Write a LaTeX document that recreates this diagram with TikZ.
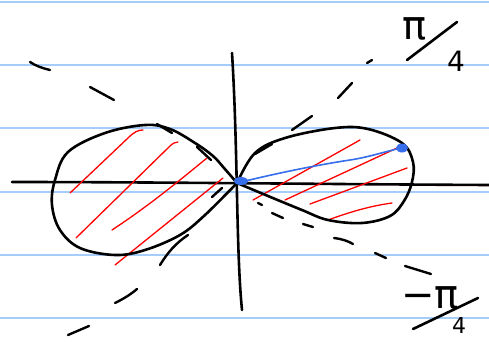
\documentclass[tikz,border=0pt]{standalone}
\usepackage{fontspec}
\setmainfont{DejaVu Sans}
\begin{document}
\begin{tikzpicture}[x=1pt,y=-1pt,line cap=round,line join=round,
  ruled/.style={draw=rule,line width=1.4pt},
  ink/.style={draw=black,line width=2.6pt},
  dashink/.style={draw=black,line width=2.4pt},
  hatch/.style={draw=red,line width=1.3pt},
  bluepen/.style={draw=bluepen,line width=1.6pt},
  bluedot/.style={fill=bluepen},
  labpi/.style={inner sep=0pt,font=\fontsize{40}{40}\selectfont},
  labfour/.style={inner sep=0pt,font=\fontsize{28}{28}\selectfont},
  labfoursm/.style={inner sep=0pt,font=\fontsize{22}{22}\selectfont}]
\definecolor{rule}{RGB}{165,205,250}
\definecolor{bluepen}{RGB}{55,110,235}
\useasboundingbox (0,0) rectangle (489,341);
\fill[white] (0,0) rectangle (489,341);
% ruled paper
\foreach \yy in {2,65,128,192,255,318} \draw[ruled] (0,\yy) -- (489,\yy);
% axes
\coordinate (O) at (237,183);
\coordinate (xl) at (12,182);
\coordinate (xr) at (489,185);
\coordinate (yt) at (232,53);
\coordinate (yb) at (242,310);
\draw[ink] (xl) .. controls (150,182) and (300,184) .. (xr);
\draw[ink] (yt) .. controls (238,150) and (236,250) .. (yb);
% red hatching, left lobe
\draw[hatch] (70,193) -- (128,138) .. controls (134,132) and (138,130) .. (143,130);
\draw[hatch] (76,238) -- (170,146) .. controls (173,143) and (176,142) .. (178,142);
\draw[hatch] (112,230) .. controls (150,205) and (180,180) .. (207,158);
\draw[hatch] (115,265) -- (223,178);
% red hatching, right lobe
\draw[hatch] (253,200) -- (360,140);
\draw[hatch] (285,200) -- (397,148);
\draw[hatch] (310,204) -- (407,168);
\draw[hatch] (328,220) .. controls (350,212) and (370,206) .. (392,203);
% lobes
\draw[ink] plot[smooth,tension=0.6] coordinates {(237,183) (224,168) (213,156) (195,143) (170,129) (145,125) (105,133) (68,152) (55,180) (52,205) (60,230) (80,248) (115,255) (145,250) (180,235) (205,215) (237,183)};
\draw[ink] plot[smooth,tension=0.6] coordinates {(237,183) (255,153) (285,138) (335,128) (368,129) (402,143) (413,162) (412,182) (404,201) (390,216) (362,223) (328,220) (302,210) (268,196) (237,183)};
% dashes along pi/4 line
\draw[dashink] (255,154) -- (272,144);
\draw[dashink] (292,130) -- (312,116);
\draw[dashink] (338,98) -- (352,83);
\draw[dashink] (367,63) -- (372,60);
\draw[dashink] (212,197) -- (222,188);
\draw[dashink] (160,265) .. controls (168,252) and (176,243) .. (188,235);
\draw[dashink] (115,303) .. controls (123,299) and (130,295) .. (137,289);
\draw[dashink] (68,335) -- (89,326);
% dashes along -pi/4 line
\draw[dashink] (30,62) .. controls (36,66) and (42,68) .. (50,70);
\draw[dashink] (90,87) -- (114,100);
\draw[dashink] (157,124) -- (172,133);
\draw[dashink] (197,147) -- (211,160);
\draw[dashink] (258,203) -- (262,205);
\draw[dashink] (272,213) -- (283,218);
\draw[dashink] (303,224) -- (313,227);
\draw[dashink] (334,238) .. controls (342,239) and (348,241) .. (353,244);
\draw[dashink] (375,253) -- (386,258);
\draw[dashink] (405,266) -- (431,274);
% blue radius
\coordinate (P) at (402,148);
\draw[bluepen] (O) .. controls (290,170) and (330,163) .. (350,160) .. controls (370,157) and (390,150) .. (P);
\fill[bluedot] (P) ellipse (6pt and 4.5pt);
\fill[bluedot] (241,181) ellipse (7pt and 4pt);
% labels
\node[labpi] (piA) at (415,29) {π};
\node[labfour] (fourA) at (456,61) {4};
\coordinate (sA1) at (407,60);
\coordinate (sA2) at (457,22);
\draw[ink] (sA1) -- (sA2);
\node[labpi] (piB) at (430,298) {−π};
\node[labfoursm] (fourB) at (459,325) {4};
\coordinate (sB1) at (413,329);
\coordinate (sB2) at (478,298);
\draw[ink] (sB1) -- (sB2);
\end{tikzpicture}
\end{document}
